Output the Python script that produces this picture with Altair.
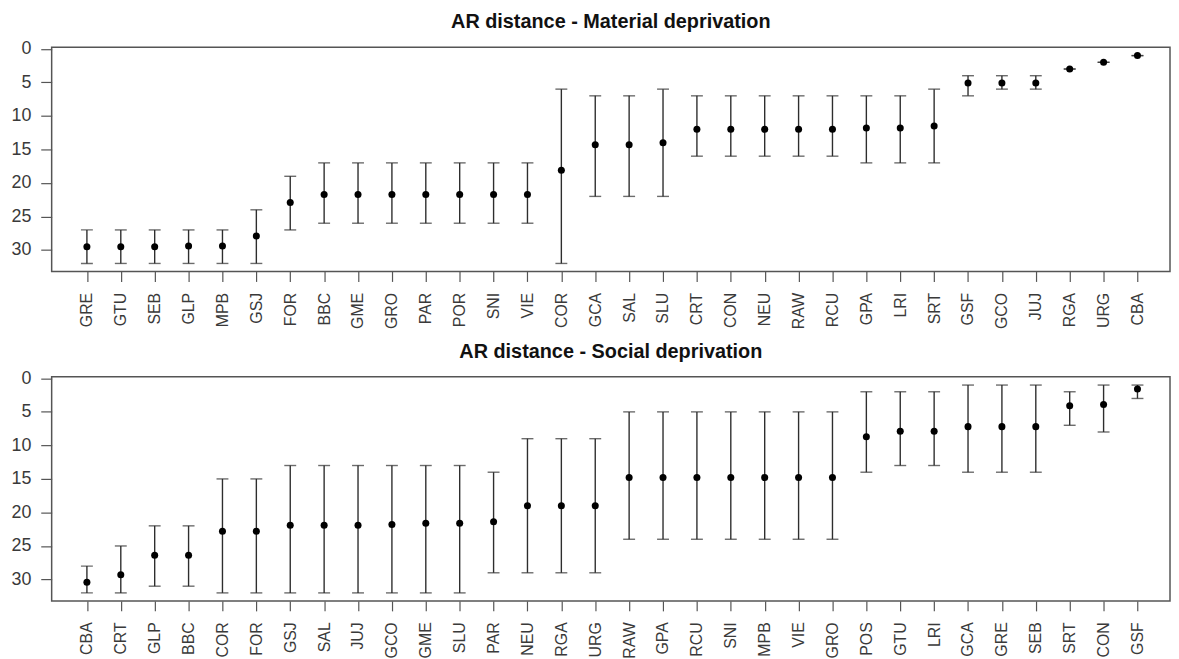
import altair as alt
import pandas as pd

# ---- Material deprivation panel ----
mat_cat = ["GRE", "GTU", "SEB", "GLP", "MPB", "GSJ", "FOR", "BBC", "GME", "GRO", "PAR",
           "POR", "SNI", "VIE", "COR", "GCA", "SAL", "SLU", "CRT", "CON", "NEU", "RAW",
           "RCU", "GPA", "LRI", "SRT", "GSF", "GCO", "JUJ", "RGA", "URG", "CBA"]
mat_mid = [29.5, 29.5, 29.5, 29.4, 29.4, 27.9, 22.9, 21.7, 21.7, 21.7, 21.7,
           21.7, 21.7, 21.7, 18.1, 14.3, 14.3, 14.0, 12.0, 12.0, 12.0, 12.0,
           12.0, 11.8, 11.8, 11.5, 5.1, 5.1, 5.1, 3.0, 2.0, 1.0]
mat_lo = [27, 27, 27, 27, 27, 24, 19, 17, 17, 17, 17,
          17, 17, 17, 6, 7, 7, 6, 7, 7, 7, 7,
          7, 7, 7, 6, 4, 4, 4, 3, 2, 1]
mat_hi = [32, 32, 32, 32, 32, 32, 27, 26, 26, 26, 26,
          26, 26, 26, 32, 22, 22, 22, 16, 16, 16, 16,
          16, 17, 17, 17, 7, 6, 6, 3, 2, 1]

# ---- Social deprivation panel ----
soc_cat = ["CBA", "CRT", "GLP", "BBC", "COR", "FOR", "GSJ", "SAL", "JUJ", "GCO", "GME",
           "SLU", "PAR", "NEU", "RGA", "URG", "RAW", "GPA", "RCU", "SNI", "MPB", "VIE",
           "GRO", "POS", "GTU", "LRI", "GCA", "GRE", "SEB", "SRT", "CON", "GSF"]
soc_mid = [30.4, 29.3, 26.4, 26.4, 22.8, 22.8, 21.9, 21.9, 21.9, 21.8, 21.6,
           21.6, 21.4, 19.0, 19.0, 19.0, 14.8, 14.8, 14.8, 14.8, 14.8, 14.8,
           14.8, 8.7, 7.9, 7.9, 7.2, 7.2, 7.2, 4.1, 3.9, 1.6]
soc_lo = [28, 25, 22, 22, 15, 15, 13, 13, 13, 13, 13,
          13, 14, 9, 9, 9, 5, 5, 5, 5, 5, 5,
          5, 2, 2, 2, 1, 1, 1, 2, 1, 1]
soc_hi = [32, 32, 31, 31, 32, 32, 32, 32, 32, 32, 32,
          32, 29, 29, 29, 29, 24, 24, 24, 24, 24, 24,
          24, 14, 13, 13, 14, 14, 14, 7, 8, 3]

y_ticks = [0, 5, 10, 15, 20, 25, 30]
FONT = "Liberation Sans"
BAR_COLOR = "#2e2e2e"


def panel(cats, mid, lo, hi, title):
    df = pd.DataFrame({"cat": cats, "mid": mid, "lo": lo, "hi": hi})
    xaxis = alt.Axis(labelAngle=-90, labelFontSize=16, tickSize=10,
                     labelPadding=11, labelColor="#3a3a3a", tickColor="#555555",
                     tickWidth=1.2, domain=False, grid=False, labelFont=FONT,
                     labelOverlap=False)
    xscale = alt.Scale(type="point", padding=1.185, align=0.52)
    yscale = alt.Scale(domain=[-0.25, 33.2], reverse=True, nice=False, zero=False)
    yaxis = alt.Axis(values=y_ticks, labelFontSize=18, tickSize=11, labelPadding=10,
                     labelColor="#3a3a3a", tickColor="#555555", tickWidth=1.2,
                     domain=False, grid=False, labelFont=FONT, labelOverlap=False,
                     minExtent=43, maxExtent=43)

    def X():
        return alt.X("cat:N", sort=cats, title=None, scale=xscale, axis=xaxis)

    def Y(field):
        return alt.Y(field, scale=yscale, axis=yaxis, title=None)

    base = alt.Chart(df)
    rule = base.mark_rule(color=BAR_COLOR, strokeWidth=1.4).encode(
        x=X(), y=Y("lo:Q"), y2="hi:Q")
    cap_lo = base.mark_tick(color=BAR_COLOR, size=12, thickness=1.4).encode(
        x=X(), y=Y("lo:Q"))
    cap_hi = base.mark_tick(color=BAR_COLOR, size=12, thickness=1.4).encode(
        x=X(), y=Y("hi:Q"))
    pts = base.mark_circle(color="black", size=50, opacity=1).encode(
        x=X(), y=Y("mid:Q"))
    return alt.layer(rule, cap_lo, cap_hi, pts).properties(
        width=1127, height=226,
        title=alt.TitleParams(title, fontSize=20, font=FONT, fontWeight="bold",
                              color="#111111", anchor="middle", offset=8),
    )


top = panel(mat_cat, mat_mid, mat_lo, mat_hi, "AR distance - Material deprivation")
bottom = panel(soc_cat, soc_mid, soc_lo, soc_hi, "AR distance - Social deprivation")

chart = alt.vconcat(top, bottom, spacing=10).properties(
    padding={"left": 0, "top": 0, "right": 0, "bottom": 0}
).configure_view(stroke="#555555", strokeWidth=1.5)

chart.save("out.html", embed_options={"renderer": "svg", "actions": False})
